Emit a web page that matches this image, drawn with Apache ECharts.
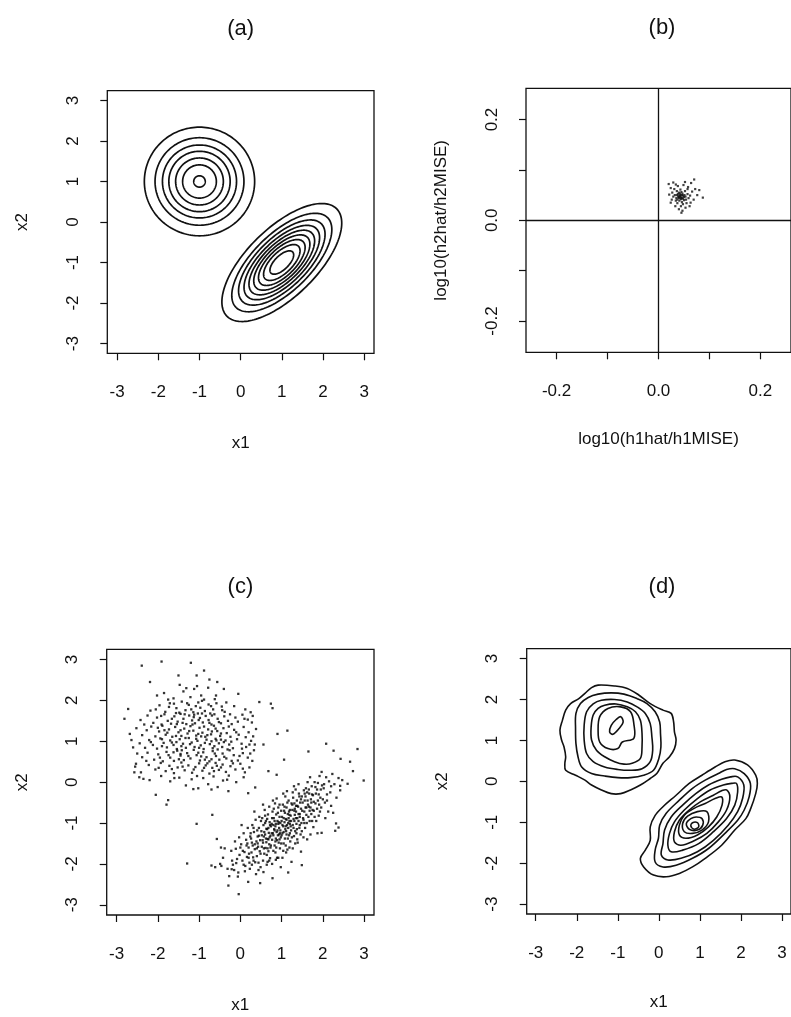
<!DOCTYPE html>
<html>
<head>
<meta charset="utf-8">
<script src="https://cdn.jsdelivr.net/npm/echarts@6/dist/echarts.min.js"></script>
<style>html,body{margin:0;padding:0;background:#fff}#chart{width:791px;height:1017px}</style>
</head>
<body>
<div id="chart"></div>
<script>
// ---------- DATA ----------
const panelTitles = ['(a)', '(b)', '(c)', '(d)'];
const xNames = ['x1', 'log10(h1hat/h1MISE)', 'x1', 'x1'];
const yNames = ['x2', 'log10(h2hat/h2MISE)', 'x2', 'x2'];
const unitTicks = [-3, -2, -1, 0, 1, 2, 3];
const bTicks = [-0.2, -0.1, 0, 0.1, 0.2];
const bTickLabels = [-0.2, 0, 0.2];

// (a) true density contours: circular component at (-1,1), correlated component at (1,-1)
const circleCenterA = [-1, 1];
const circleRadiiA = [1.34, 1.08, 0.90, 0.745, 0.58, 0.41, 0.14];
const ellipseCenterA = [1, -1];
const ellipseAngleA = 45;
const ellipseMajorA = [1.88, 1.57, 1.355, 1.185, 1.03, 0.88, 0.73, 0.57, 0.37];
const ellipseMinorA = [0.84, 0.70, 0.61, 0.53, 0.46, 0.395, 0.33, 0.26, 0.17];

// (b) bandwidth ratio estimates
const bPoints = [
[0.043,0.047],[0.038,0.052],[0.048,0.043],[0.035,0.044],[0.051,0.050],[0.041,0.039],[0.045,0.056],[0.032,0.050],
[0.054,0.041],[0.039,0.045],[0.047,0.053],[0.044,0.042],[0.036,0.058],[0.050,0.046],[0.042,0.049],[0.029,0.047],
[0.057,0.052],[0.046,0.036],[0.040,0.055],[0.052,0.058],[0.034,0.039],[0.059,0.044],[0.043,0.061],[0.027,0.055],
[0.048,0.032],[0.037,0.034],[0.062,0.049],[0.031,0.062],[0.055,0.034],[0.044,0.028],[0.024,0.064],[0.066,0.057],
[0.021,0.051],[0.058,0.066],[0.049,0.070],[0.038,0.068],[0.069,0.041],[0.053,0.025],[0.040,0.022],[0.063,0.035],
[0.026,0.041],[0.072,0.062],[0.047,0.019],[0.034,0.071],[0.087,0.045],[0.080,0.060],[0.064,0.074],[0.052,0.076],
[0.029,0.075],[0.020,0.072],[0.076,0.050],[0.045,0.015],[0.061,0.028],[0.033,0.028],[0.057,0.062],[0.042,0.053],
[0.050,0.040],[0.039,0.048],[0.046,0.050],[0.044,0.045],[0.041,0.044],[0.048,0.049],[0.037,0.041],[0.053,0.047],
[0.070,0.081],[0.024,0.035],[0.043,0.050],[0.040,0.046],[0.046,0.044],[0.036,0.050]
];

// (c) simulated sample
const cUpper = [
[-1.62,2.05],[-1.38,2.22],[-1.21,2.08],[-0.95,2.12],[-0.78,2.31],[-1.05,2.35],[-1.85,2.18],[-0.62,2.03],[-1.47,2.38],[-0.88,2.02],[-1.12,2.28],[-2.02,2.12],
[-2.18,1.75],[-1.96,1.88],[-1.82,1.72],[-1.71,1.93],[-1.55,1.81],[-1.42,1.97],[-1.33,1.76],[-1.25,1.89],[-1.14,1.71],[-1.02,1.95],[-0.97,1.82],[-0.86,1.74],
[-0.77,1.90],[-0.66,1.78],[-0.58,1.93],[-0.45,1.85],[-0.38,1.72],[-1.48,1.70],[-1.08,1.86],[-0.93,1.99],[-1.61,1.92],[-2.05,1.78],[0.12,1.78],[0.25,1.71],
[-2.42,1.52],[-2.25,1.63],[-2.11,1.45],[-2.02,1.58],[-1.91,1.41],[-1.84,1.66],[-1.76,1.50],[-1.68,1.43],[-1.60,1.61],[-1.52,1.48],[-1.45,1.67],[-1.38,1.55],
[-1.31,1.42],[-1.24,1.63],[-1.17,1.51],[-1.10,1.44],[-1.03,1.68],[-0.98,1.57],[-0.91,1.46],[-0.84,1.62],[-0.77,1.52],[-0.70,1.41],[-0.63,1.66],[-0.55,1.55],
[-0.47,1.44],[-0.39,1.61],[-0.30,1.50],[-0.21,1.42],[-0.12,1.58],[0.05,1.65],[0.18,1.53],[0.28,1.46],[-1.56,1.69],[-1.13,1.59],[-0.69,1.63],
[-2.68,1.18],[-2.52,1.32],[-2.38,1.15],[-2.27,1.27],[-2.16,1.36],[-2.06,1.12],[-1.97,1.24],[-1.89,1.38],[-1.81,1.16],[-1.73,1.29],[-1.65,1.11],[-1.58,1.35],
[-1.50,1.22],[-1.43,1.13],[-1.36,1.31],[-1.28,1.19],[-1.21,1.37],[-1.14,1.26],[-1.07,1.14],[-0.99,1.33],[-0.92,1.21],[-0.85,1.11],[-0.78,1.29],[-0.71,1.17],
[-0.64,1.38],[-0.56,1.25],[-0.49,1.13],[-0.41,1.32],[-0.33,1.20],[-0.24,1.11],[-0.15,1.28],[-0.04,1.16],[0.08,1.35],[0.20,1.22],[0.31,1.12],[-1.45,1.27],
[-0.95,1.12],[-0.60,1.31],[0.38,1.30],
[-2.44,0.95],[-2.31,0.84],[-2.21,1.03],[-2.12,0.91],[-2.02,0.82],[-1.94,1.07],[-1.86,0.96],[-1.78,0.85],[-1.70,1.02],[-1.62,0.91],[-1.54,0.81],[-1.47,1.05],
[-1.39,0.94],[-1.32,0.84],[-1.25,1.08],[-1.18,0.97],[-1.11,0.86],[-1.04,1.01],[-0.96,0.90],[-0.89,0.81],[-0.82,1.04],[-0.74,0.93],[-0.67,0.83],[-0.60,1.06],
[-0.52,0.95],[-0.44,0.86],[-0.36,1.02],[-0.27,0.92],[-0.18,0.83],[-0.08,1.05],[0.03,0.94],[0.14,0.86],[0.26,1.01],[0.35,0.92],[-1.55,0.98],[-1.00,0.84],
[-0.70,1.00],[-0.40,0.98],
[-2.38,0.61],[-2.25,0.72],[-2.09,0.55],[-1.99,0.68],[-1.88,0.51],[-1.79,0.74],[-1.70,0.60],[-1.61,0.52],[-1.53,0.77],[-1.45,0.65],[-1.37,0.54],[-1.29,0.71],
[-1.21,0.58],[-1.13,0.79],[-1.06,0.66],[-0.98,0.53],[-0.90,0.73],[-0.82,0.61],[-0.75,0.51],[-0.67,0.76],[-0.59,0.64],[-0.51,0.55],[-0.43,0.70],[-0.34,0.58],
[-0.26,0.78],[-0.16,0.66],[-0.06,0.53],[0.06,0.71],[0.18,0.60],[0.29,0.52],[-1.42,0.78],[-0.70,0.56],
[-2.55,0.38],[-2.41,0.24],[-2.22,0.42],[-2.06,0.31],[-1.93,0.47],[-1.81,0.27],[-1.72,0.40],[-1.61,0.22],[-1.52,0.36],[-1.43,0.48],[-1.35,0.29],[-1.26,0.41],
[-1.17,0.23],[-1.09,0.37],[-1.00,0.46],[-0.92,0.28],[-0.84,0.41],[-0.75,0.21],[-0.68,0.35],[-0.60,0.47],[-0.52,0.30],[-0.43,0.43],[-0.35,0.25],[-0.24,0.39],
[-0.12,0.31],[0.00,0.45],[0.11,0.24],[0.22,0.36],[-0.57,0.40],[-0.80,0.46],
[-2.45,0.12],[-2.20,0.05],[-1.92,0.15],[-1.70,0.02],[-1.48,0.11],[-1.32,-0.08],[-1.18,0.07],[-1.02,-0.15],[-0.90,0.10],[-0.78,-0.05],[-0.65,0.14],[-0.55,-0.12],
[-0.42,0.04],[-0.28,0.16],[-0.10,0.00],[0.08,0.12],[-1.14,-0.17],[-0.70,-0.18],
[-1.73,1.84],[-1.29,1.93],[-0.71,1.86],[-0.34,1.95],[-1.92,1.62],[-1.66,1.55],[-1.35,1.66],[-1.01,1.52],[-0.73,1.68],[-0.52,1.47],[-0.25,1.66],[-0.06,1.48],
[0.10,1.55],[-2.00,1.33],[-1.77,1.21],[-1.54,1.42],[-1.33,1.08],[-1.16,1.41],[-1.02,1.18],[-0.88,1.36],[-0.69,1.24],[-0.47,1.19],[-0.28,1.36],[-0.10,1.22],
[0.13,1.10],[-2.17,0.98],[-1.90,0.88],[-1.66,0.97],[-1.43,0.88],[-1.22,0.93],[-1.07,1.06],[-0.86,0.96],[-0.63,0.88],[-0.47,1.04],[-0.22,0.99],[0.04,0.82],
[0.22,0.92],[-2.28,0.52],[-1.95,0.60],[-1.74,0.66],[-1.49,0.56],[-1.26,0.64],[-1.02,0.72],[-0.86,0.55],[-0.62,0.70],[-0.39,0.62],[-0.21,0.52],[-0.02,0.64],
[0.24,0.70],[-1.98,0.35],[-1.66,0.32],[-1.40,0.38],[-1.13,0.31],[-0.88,0.35],[-0.64,0.27],[-0.47,0.36],[-0.18,0.46],[0.06,0.33],[-1.56,1.13],[-1.24,1.25],
[-0.80,1.15],[-0.58,1.02],[-1.40,1.45],[-0.93,1.68],[-0.44,1.76],[-1.84,1.27],[-2.33,1.41],[-1.62,0.73],[-0.95,0.63],[-0.31,0.80],[-1.19,1.78],[-0.59,2.12],
[-1.31,2.30],[-1.75,2.02],[0.30,1.62],[0.33,0.78],[-2.60,0.85],[-2.50,0.70],[-1.05,0.15],[-0.32,0.06],[-1.60,0.10],[-0.15,1.86],[-0.40,2.28],[-1.90,1.05],
[-1.45,0.69],[-0.55,0.80],[-0.75,1.45],[-1.12,1.65]
];
const cLower = [
[-0.42,-1.85],[-0.31,-2.12],[-0.38,-1.62],[-0.27,-2.30],[-0.46,-2.05],
[-0.22,-1.68],[-0.18,-2.02],[-0.13,-1.45],[-0.08,-1.88],[-0.05,-2.21],[-0.20,-1.92],[-0.11,-1.63],[-0.03,-1.35],[-0.15,-2.15],[-0.02,-1.78],
[0.02,-1.52],[0.05,-1.92],[0.08,-1.25],[0.10,-1.71],[0.12,-2.05],[0.14,-1.41],[0.16,-1.83],[0.18,-1.12],[0.20,-1.60],[0.22,-1.97],[0.24,-1.33],[0.06,-1.68],
[0.11,-2.18],[0.17,-1.50],[0.21,-1.75],[0.03,-1.05],[0.23,-2.12],
[0.26,-1.38],[0.27,-1.72],[0.29,-1.05],[0.30,-1.55],[0.32,-1.92],[0.33,-1.22],[0.35,-1.64],[0.36,-1.96],[0.37,-0.92],[0.39,-1.45],[0.40,-1.81],[0.41,-1.18],
[0.43,-1.58],[0.44,-1.97],[0.45,-1.31],[0.46,-0.85],[0.47,-1.69],[0.48,-1.42],[0.49,-2.08],[0.28,-1.48],[0.34,-0.72],[0.38,-2.25],[0.42,-1.50],[0.31,-1.84],
[0.45,-1.12],
[0.51,-1.20],[0.52,-1.58],[0.53,-0.88],[0.54,-1.42],[0.55,-1.92],[0.56,-1.05],[0.57,-1.33],[0.58,-1.75],[0.59,-0.68],[0.60,-1.28],[0.61,-1.61],[0.62,-0.95],
[0.63,-1.47],[0.64,-2.02],[0.65,-1.15],[0.66,-1.39],[0.67,-0.79],[0.68,-1.69],[0.69,-1.24],[0.70,-1.52],[0.71,-0.98],[0.72,-1.86],[0.73,-1.31],[0.74,-1.08],
[0.52,-1.30],[0.56,-2.20],[0.60,-1.00],[0.63,-1.14],[0.66,-1.95],[0.70,-0.60],[0.73,-1.60],[0.55,-0.55],[0.68,-1.40],
[0.76,-1.02],[0.77,-1.41],[0.78,-0.72],[0.79,-1.25],[0.80,-1.68],[0.81,-0.88],[0.82,-1.15],[0.83,-1.55],[0.84,-0.52],[0.85,-1.08],[0.86,-1.38],[0.87,-0.79],
[0.88,-1.22],[0.89,-1.85],[0.90,-0.95],[0.91,-1.30],[0.92,-0.62],[0.93,-1.48],[0.94,-1.12],[0.95,-0.85],[0.96,-1.62],[0.97,-1.00],[0.98,-1.35],[0.99,-0.70],
[0.77,-2.00],[0.80,-1.05],[0.83,-0.95],[0.86,-1.90],[0.88,-0.40],[0.90,-1.18],[0.93,-0.98],[0.96,-1.25],[0.98,-2.08],[0.79,-0.45],[0.85,-1.72],[0.92,-1.02],
[0.95,-1.40],
[1.01,-0.85],[1.02,-1.25],[1.03,-0.55],[1.04,-1.08],[1.05,-1.50],[1.06,-0.70],[1.07,-0.98],[1.08,-1.38],[1.09,-0.35],[1.10,-0.90],[1.11,-1.20],[1.12,-0.62],
[1.13,-1.05],[1.14,-1.65],[1.15,-0.78],[1.16,-1.12],[1.17,-0.45],[1.18,-1.30],[1.19,-0.95],[1.20,-0.68],[1.21,-1.45],[1.22,-0.82],[1.23,-1.18],[1.24,-0.52],
[1.02,-1.85],[1.05,-0.88],[1.08,-0.75],[1.11,-1.72],[1.13,-0.22],[1.16,-1.00],[1.19,-0.80],[1.22,-1.08],[1.24,-1.95],[1.04,-0.28],[1.10,-1.55],[1.17,-0.88],
[1.20,-1.25],
[1.26,-0.68],[1.27,-1.05],[1.28,-0.38],[1.29,-0.90],[1.30,-1.32],[1.31,-0.52],[1.32,-0.80],[1.33,-1.20],[1.34,-0.18],[1.35,-0.72],[1.36,-1.02],[1.37,-0.45],
[1.38,-0.88],[1.39,-1.48],[1.40,-0.60],[1.41,-0.95],[1.42,-0.28],[1.43,-1.12],[1.44,-0.78],[1.45,-0.50],[1.46,-1.28],[1.47,-0.65],[1.48,-1.00],[1.49,-0.35],
[1.27,-1.62],[1.31,-0.70],[1.35,-0.58],[1.38,-1.40],[1.41,-0.05],[1.44,-0.85],[1.47,-1.70],[1.30,-0.10],[1.36,-1.25],
[1.51,-0.50],[1.52,-0.88],[1.54,-0.20],[1.55,-0.72],[1.57,-1.12],[1.58,-0.35],[1.60,-0.62],[1.61,-1.00],[1.63,0.00],[1.64,-0.55],[1.65,-0.85],[1.67,-0.28],
[1.68,-0.70],[1.70,-1.28],[1.71,-0.42],[1.72,-0.78],[1.73,-0.10],[1.74,-0.95],[1.53,-1.35],[1.56,-0.45],[1.59,-0.15],[1.62,-1.40],[1.66,-0.60],[1.69,0.12],
[1.72,-0.50],
[1.76,-0.32],[1.78,-0.70],[1.80,0.00],[1.82,-0.52],[1.84,-0.95],[1.86,-0.18],[1.88,-0.45],[1.90,-0.82],[1.92,0.15],[1.94,-0.38],[1.96,-0.62],[1.98,-0.08],
[1.77,-1.10],[1.83,-0.28],[1.87,-1.25],[1.91,-0.55],[1.97,0.25],
[2.02,-0.15],[2.05,-0.50],[2.08,0.12],[2.10,-0.30],[2.13,-0.72],[2.15,0.02],[2.18,-0.25],[2.20,-0.58],[2.23,0.20],[2.06,-0.88],
[2.28,-0.05],[2.33,-0.38],[2.38,0.10],[2.42,-0.20],[2.47,0.05],
[0.35,-1.52],[0.42,-1.33],[0.49,-1.75],[0.55,-1.48],[0.58,-1.22],[0.62,-1.38],[0.65,-0.90],[0.68,-1.12],[0.71,-1.35],[0.74,-1.55],[0.77,-0.88],[0.80,-1.30],
[0.83,-1.18],[0.86,-1.02],[0.89,-1.42],[0.91,-0.75],[0.94,-1.28],[0.97,-1.18],[1.00,-0.95],[1.02,-1.05],[1.05,-1.22],[1.07,-0.60],[1.10,-1.08],[1.12,-0.92],
[1.15,-1.38],[1.18,-0.72],[1.20,-1.02],[1.23,-0.95],[1.26,-0.55],[1.29,-1.12],[1.32,-0.65],[1.35,-0.88],[1.38,-0.58],[1.41,-0.78],[1.44,-1.05],[1.47,-0.42],
[1.50,-0.70],[1.53,-0.92],[1.56,-0.28],[1.60,-0.80],[1.63,-0.45],[1.66,-0.18],[1.70,-0.62],[1.74,-0.30],[1.78,-0.48],[1.82,-0.12],[1.86,-0.65],[1.90,-0.30],
[1.95,-0.18],[2.00,-0.42],[0.20,-1.85],[0.28,-2.02],[0.15,-1.55],[0.08,-2.02],[0.32,-1.12],[0.40,-1.62],[0.44,-2.15],[0.50,-0.95],[0.57,-1.62],[0.64,-1.78],
[0.70,-1.92],[0.76,-1.25],[0.81,-0.65],[0.87,-1.60],[0.92,-1.85],[0.99,-1.50],[1.04,-1.68],[1.09,-1.15],[1.14,-0.50],[1.19,-1.60],[1.25,-1.35],[1.31,-0.95],
[1.37,-1.15],[1.43,-0.35],[1.49,-1.20],[1.55,-1.00],[1.62,-0.25],[1.68,-0.95],[1.75,-0.68],[1.80,-0.85],[1.88,-0.02],[1.93,-0.72],[2.03,-0.05],[2.10,-0.45],
[2.20,-0.10],[2.25,-0.75],[0.00,-1.60],[-0.10,-1.98],[0.25,-1.25],[0.60,-0.82],[0.95,-0.55],[1.27,-0.25],[1.58,-0.62],[0.72,-1.05],[1.00,-1.30],[1.33,-1.50],
[0.85,-1.45],[1.12,-1.28],[0.66,-1.62]
];
const cOutlying = [
[-2.39,2.85],[-1.91,2.95],[-1.20,2.92],[-0.88,2.73],[-1.50,2.61],[-2.19,2.45],[-1.06,2.61],[-0.75,2.51],[-0.56,2.45],[-0.05,2.16],
[0.46,1.96],[0.74,1.92],[0.78,1.81],[0.90,1.18],[1.14,1.26],[0.56,0.92],[-2.81,1.55],[-2.72,1.79],[-2.64,1.03],[-2.53,0.45],
[-2.57,0.24],[-2.35,0.08],[-2.05,-0.31],[-1.79,-0.55],[-1.75,-0.44],[-1.29,-1.99],[-1.06,-1.02],[-0.68,-0.80],[-0.70,-2.04],[-0.61,-2.08],
[-0.49,-2.00],[-0.29,-2.53],[-0.04,-2.74],[-0.57,-1.39],[-0.47,-1.60],[-0.29,-0.22],[0.19,-0.27],[0.36,-0.13],[0.68,0.27],[0.88,0.18],
[1.06,0.55],[1.65,0.75],[2.08,0.94],[2.26,0.77],[2.43,0.57],[2.66,0.50],[2.73,0.27],[2.84,0.81],[2.99,0.04],[2.60,-0.04],
[2.42,-0.09],[2.32,-1.01],[2.38,-1.11],[2.30,-1.19],[1.97,-1.24],[1.49,-2.03],[1.16,-2.21],[0.78,-2.35],[0.48,-2.47],[0.19,-2.44],
[-0.06,-2.31],[-0.21,-2.13]
];

// (d) kernel density estimate contours (closed curves)
const dContours = [
[[-1.48,2.35],[-1.08,2.33],[-0.77,2.27],[-0.49,2.11],[-0.21,1.90],[0.10,1.74],[0.30,1.66],[0.36,1.45],[0.38,1.21],[0.42,1.01],[0.38,0.80],[0.26,0.60],[0.10,0.44],[-0.05,0.19],[-0.21,0.07],[-0.45,-0.09],[-0.69,-0.21],[-0.93,-0.30],[-1.16,-0.30],[-1.40,-0.21],[-1.64,-0.09],[-1.80,0.03],[-2.03,0.15],[-2.27,0.27],[-2.29,0.44],[-2.27,0.60],[-2.31,0.84],[-2.37,1.01],[-2.41,1.25],[-2.35,1.49],[-2.27,1.74],[-2.15,1.90],[-1.95,2.02],[-1.80,2.15],[-1.64,2.29]],
[[-1.48,2.13],[-1.16,2.16],[-0.85,2.13],[-0.53,2.02],[-0.29,1.90],[-0.09,1.70],[0.02,1.45],[0.04,1.17],[0.05,0.84],[0.00,0.56],[-0.13,0.27],[-0.37,0.15],[-0.69,0.09],[-1.00,0.09],[-1.32,0.13],[-1.64,0.19],[-1.88,0.35],[-1.97,0.60],[-2.02,0.92],[-2.03,1.29],[-2.02,1.66],[-1.91,1.90],[-1.72,2.05]],
[[-1.40,1.98],[-1.08,2.00],[-0.77,1.94],[-0.53,1.82],[-0.33,1.66],[-0.21,1.41],[-0.17,1.09],[-0.15,0.76],[-0.21,0.48],[-0.41,0.31],[-0.69,0.27],[-1.00,0.29],[-1.32,0.35],[-1.60,0.48],[-1.76,0.68],[-1.82,1.01],[-1.82,1.37],[-1.76,1.70],[-1.60,1.89]],
[[-1.32,1.86],[-1.04,1.89],[-0.77,1.82],[-0.57,1.70],[-0.45,1.49],[-0.41,1.17],[-0.41,0.84],[-0.45,0.56],[-0.65,0.44],[-0.85,0.42],[-1.08,0.48],[-1.32,0.60],[-1.52,0.76],[-1.64,1.01],[-1.65,1.33],[-1.60,1.62],[-1.48,1.78]],
[[-0.93,1.82],[-0.69,1.70],[-0.61,1.41],[-0.61,1.05],[-0.89,0.96],[-1.00,0.80],[-1.24,0.80],[-1.44,0.96],[-1.48,1.25],[-1.44,1.58],[-1.24,1.78]],
[[-0.93,1.58],[-0.87,1.45],[-0.97,1.29],[-1.12,1.15],[-1.20,1.21],[-1.16,1.37],[-1.04,1.51]],
[[1.85,0.52],[2.16,0.40],[2.36,0.15],[2.40,-0.05],[2.36,-0.30],[2.24,-0.66],[2.12,-0.91],[1.85,-1.19],[1.53,-1.56],[1.13,-1.88],[0.82,-2.09],[0.50,-2.25],[0.18,-2.33],[-0.13,-2.29],[-0.37,-2.09],[-0.45,-1.88],[-0.33,-1.68],[-0.21,-1.44],[-0.21,-1.11],[-0.09,-0.83],[0.10,-0.62],[0.42,-0.34],[0.74,-0.05],[1.05,0.15],[1.37,0.35],[1.61,0.48]],
[[1.85,0.31],[2.08,0.19],[2.23,-0.05],[2.20,-0.38],[2.08,-0.70],[1.92,-0.95],[1.61,-1.27],[1.21,-1.64],[0.82,-1.88],[0.42,-2.05],[0.10,-2.09],[-0.09,-1.97],[-0.09,-1.68],[-0.01,-1.39],[0.02,-1.07],[0.18,-0.78],[0.50,-0.46],[0.82,-0.17],[1.13,0.03],[1.45,0.19],[1.65,0.29]],
[[1.92,0.11],[2.07,-0.09],[2.04,-0.42],[1.92,-0.74],[1.69,-1.07],[1.33,-1.44],[0.94,-1.72],[0.54,-1.88],[0.22,-1.92],[0.06,-1.80],[0.10,-1.52],[0.14,-1.19],[0.30,-0.87],[0.58,-0.58],[0.90,-0.30],[1.21,-0.09],[1.53,0.05],[1.75,0.11]],
[[1.89,-0.05],[1.92,-0.26],[1.85,-0.58],[1.65,-0.91],[1.33,-1.23],[0.97,-1.52],[0.58,-1.68],[0.30,-1.72],[0.22,-1.56],[0.26,-1.27],[0.38,-0.99],[0.62,-0.70],[0.94,-0.42],[1.25,-0.21],[1.57,-0.09],[1.77,-0.05]],
[[1.65,-0.21],[1.73,-0.38],[1.65,-0.70],[1.45,-0.99],[1.17,-1.27],[0.86,-1.45],[0.54,-1.56],[0.38,-1.48],[0.38,-1.23],[0.50,-0.95],[0.74,-0.70],[1.01,-0.50],[1.33,-0.34],[1.53,-0.23]],
[[1.53,-0.38],[1.54,-0.58],[1.41,-0.87],[1.21,-1.11],[0.94,-1.31],[0.66,-1.39],[0.50,-1.31],[0.50,-1.07],[0.62,-0.83],[0.86,-0.66],[1.13,-0.54],[1.37,-0.42]],
[[1.17,-0.74],[1.21,-0.99],[1.05,-1.19],[0.82,-1.27],[0.62,-1.23],[0.58,-1.03],[0.70,-0.85],[0.94,-0.74]],
[[1.05,-0.91],[1.07,-1.07],[0.94,-1.19],[0.74,-1.17],[0.67,-1.03],[0.78,-0.91],[0.91,-0.87]],
[[0.94,-1.01],[0.97,-1.11],[0.86,-1.17],[0.78,-1.09],[0.82,-1.01]]
];

// ---------- LAYOUT ----------
const FONT = "'Liberation Sans', Arial, Helvetica, sans-serif";
const INK = '#111';
const grids = [
  {left: 107.3, top: 90.7, width: 266.7, height: 262.6},
  {left: 526, top: 88.3, width: 270, height: 264},
  {left: 106.7, top: 649.3, width: 267.3, height: 265.7},
  {left: 526.7, top: 648.7, width: 271, height: 265.3}
];
const xRanges = [[-3.24, 3.24], [-0.26, 0.26], [-3.24, 3.24], [-3.22, 3.22]];
const yRanges = [[-3.24, 3.24], [-0.262, 0.262], [-3.25, 3.25], [-3.24, 3.24]];
const xNameGaps = [82, 79, 82, 80];
const yNameGaps = [76, 76, 76, 76];

function fmt(v) { return (Math.abs(v) < 1e-9 ? 0 : v).toString(); }
function fmtB(v) { return (Math.abs(v) < 1e-9 ? 0 : v).toFixed(1); }

function makeAxis(i, isX) {
  const isB = i === 1;
  const r = isX ? xRanges[i] : yRanges[i];
  return {
    type: 'value', gridIndex: i, min: r[0], max: r[1],
    position: isX ? 'bottom' : 'left',
    splitLine: {show: false},
    axisLine: {show: false, onZero: false},
    axisTick: {show: true, inside: false, length: 7, lineStyle: {color: INK, width: 1.2},
      customValues: isB ? bTicks : unitTicks},
    axisLabel: {show: true, color: INK, fontFamily: FONT, fontSize: 17,
      margin: isX ? 31 : 25.5, rotate: isX ? 0 : 90,
      customValues: isB ? bTickLabels : unitTicks,
      formatter: isB ? fmtB : fmt},
    name: isX ? xNames[i] : yNames[i],
    nameLocation: 'middle',
    nameGap: isX ? xNameGaps[i] : yNameGaps[i],
    nameTextStyle: {color: INK, fontFamily: FONT, fontSize: 17}
  };
}

function ellipseRender(params, api) {
  const cx = api.value(0), cy = api.value(1), a = api.value(2), b = api.value(3);
  const ang = api.value(4) * Math.PI / 180;
  const pts = [];
  const n = 160;
  for (let k = 0; k <= n; k++) {
    const t = k / n * 2 * Math.PI;
    const u = a * Math.cos(t), v = b * Math.sin(t);
    pts.push(api.coord([cx + u * Math.cos(ang) - v * Math.sin(ang), cy + u * Math.sin(ang) + v * Math.cos(ang)]));
  }
  return {type: 'polyline', shape: {points: pts}, style: {stroke: INK, lineWidth: 1.7, fill: null}};
}

const aData = circleRadiiA.map(r => [circleCenterA[0], circleCenterA[1], r, r, 0])
  .concat(ellipseMajorA.map((a, k) => [ellipseCenterA[0], ellipseCenterA[1], a, ellipseMinorA[k], ellipseAngleA]));

function contourRender(params, api) {
  const c = dContours[params.dataIndex];
  const pts = c.map(p => api.coord(p));
  return {type: 'polygon', shape: {points: pts, smooth: 0.35}, style: {stroke: INK, lineWidth: 1.6, fill: null}};
}

const option = {
  backgroundColor: '#fff',
  animation: false,
  grid: grids.map(g => Object.assign({show: true, borderColor: INK, borderWidth: 1.3, backgroundColor: 'transparent', containLabel: false}, g)),
  xAxis: [0, 1, 2, 3].map(i => makeAxis(i, true)),
  yAxis: [0, 1, 2, 3].map(i => makeAxis(i, false)),
  graphic: panelTitles.map((t, i) => ({
    type: 'text',
    x: [240.7, 662, 240.4, 662][i],
    y: [29, 28, 587, 587][i],
    style: {text: t, fill: INK, font: '22px ' + FONT, textAlign: 'center', textVerticalAlign: 'middle'}
  })),
  series: [
    {type: 'custom', xAxisIndex: 0, yAxisIndex: 0, coordinateSystem: 'cartesian2d',
     renderItem: ellipseRender, data: aData, encode: {x: 0, y: 1}, silent: true},
    {type: 'scatter', xAxisIndex: 1, yAxisIndex: 1, data: bPoints, symbol: 'rect', symbolSize: 2.2,
     itemStyle: {color: '#111'}, silent: true,
     markLine: {silent: true, symbol: 'none', label: {show: false},
       lineStyle: {color: INK, type: 'solid', width: 1.3},
       data: [{xAxis: 0}, {yAxis: 0}]}},
    {type: 'scatter', xAxisIndex: 2, yAxisIndex: 2, data: cUpper.concat(cLower, cOutlying), symbol: 'rect', symbolSize: 2.3,
     itemStyle: {color: '#000'}, silent: true},
    {type: 'custom', xAxisIndex: 3, yAxisIndex: 3, coordinateSystem: 'cartesian2d',
     renderItem: contourRender, data: dContours.map(c => [c[0][0], c[0][1]]), encode: {x: 0, y: 1}, silent: true}
  ]
};

const chart = echarts.init(document.getElementById('chart'), null, {renderer: 'canvas', width: 791, height: 1017});
chart.setOption(option);
</script>
</body>
</html>
